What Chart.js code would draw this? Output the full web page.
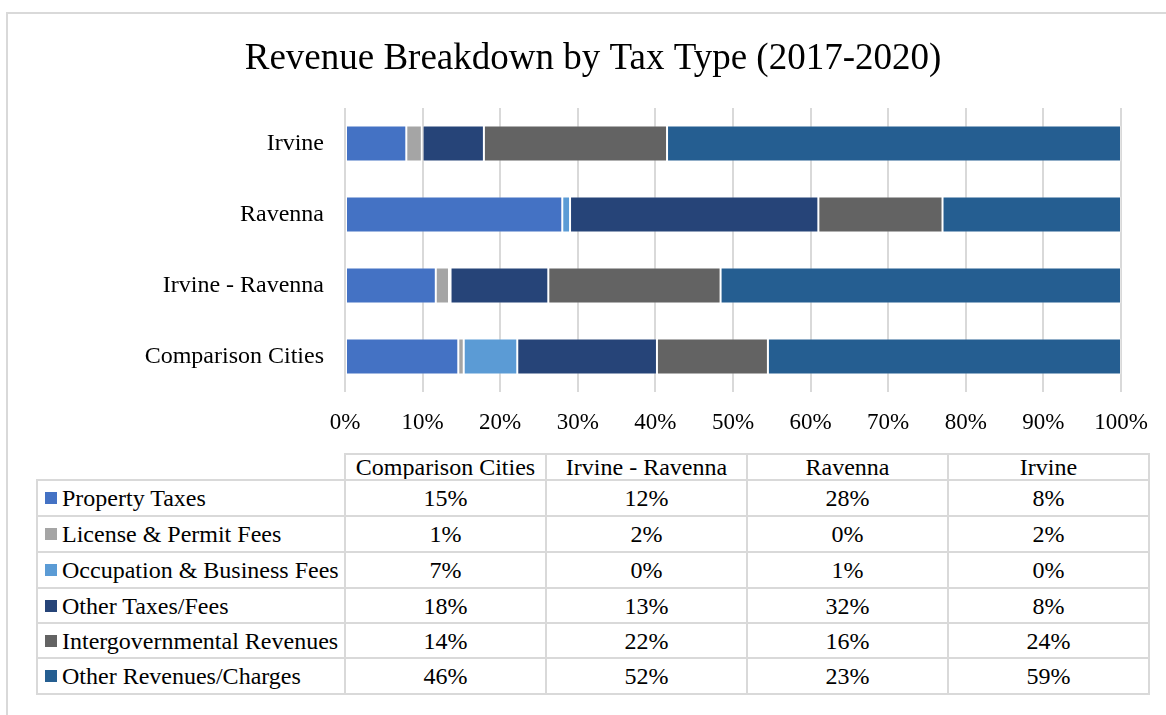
<!DOCTYPE html>
<html>
<head>
<meta charset="utf-8">
<script src="https://cdn.jsdelivr.net/npm/chart.js@4.4.1/dist/chart.umd.min.js"></script>
<style>
  html, body { margin: 0; padding: 0; background: #fff; }
  body { width: 1166px; height: 715px; position: relative; overflow: hidden;
         font-family: "Liberation Serif", "Times New Roman", serif; color: #000; }
  #frame { position: absolute; left: 6px; top: 12px; width: 1200px; height: 800px;
           border: 2px solid #d9d9d9; box-sizing: border-box; }
  #chartBox { position: absolute; left: 0; top: 0; width: 1166px; height: 440px; }
  #dataTable { position: absolute; left: 0; top: 0; }
  .cell { position: absolute; box-sizing: border-box; border: 2px solid #d9d9d9;
          display: flex; align-items: center; justify-content: center;
          font-size: 24px; line-height: 1; white-space: nowrap; }
  .cell.legend { justify-content: flex-start; padding-left: 7px; }
  .swatch { width: 12px; height: 12px; margin-right: 5px; flex: none; }
</style>
</head>
<body>
<div id="frame"></div>
<div id="chartBox"><canvas id="revenueChart" width="1166" height="440"></canvas></div>
<div id="dataTable"></div>
<script>
// Jurisdictions, in data-table column order (bottom bar first)
const categories = ['Comparison Cities', 'Irvine - Ravenna', 'Ravenna', 'Irvine'];

// Share of total revenue (%) by tax type
const propertyTaxes      = [14.6, 11.7, 28.0, 7.9];
const licenseFees        = [0.7, 1.7, 0.0, 2.0];
const occupationFees     = [6.9, 0.2, 1.0, 0.1];
const otherTaxes         = [18.0, 12.6, 32.0, 7.9];
const intergovernmental  = [14.3, 22.2, 16.0, 23.6];
const otherRevenues      = [45.5, 51.6, 23.0, 58.5];

const seriesNames = ['Property Taxes', 'License & Permit Fees', 'Occupation & Business Fees',
                     'Other Taxes/Fees', 'Intergovernmental Revenues', 'Other Revenues/Charges'];
const seriesColors = ['#4472C4', '#A5A5A5', '#5B9BD5', '#264478', '#636363', '#255E91'];
const seriesValues = [propertyTaxes, licenseFees, occupationFees, otherTaxes, intergovernmental, otherRevenues];

const xTicks = [0, 10, 20, 30, 40, 50, 60, 70, 80, 90, 100];

const serif = '"Liberation Serif", "Times New Roman", serif';

const datasets = seriesNames.map((name, i) => ({
  label: name,
  data: seriesValues[i],
  backgroundColor: seriesColors[i],
  borderColor: 'rgba(255,255,255,0.3)',
  borderWidth: 1,
  borderSkipped: false,
  categoryPercentage: 1,
  barPercentage: 0.51
}));

new Chart(document.getElementById('revenueChart'), {
  type: 'bar',
  data: { labels: categories, datasets },
  options: {
    indexAxis: 'y',
    responsive: false,
    animation: false,
    layout: { padding: { left: 65, right: 45, top: 0, bottom: 0 } },
    plugins: {
      legend: { display: false },
      tooltip: { enabled: false },
      title: {
        display: true,
        text: 'Revenue Breakdown by Tax Type (2017-2020)',
        color: '#000',
        font: { family: serif, size: 37, weight: 'normal', lineHeight: 1.2 },
        padding: { top: 37, bottom: 26.6 }
      }
    },
    scales: {
      x: {
        stacked: true,
        min: 0,
        max: 100,
        afterBuildTicks: (scale) => { scale.ticks = xTicks.map(v => ({ value: v })); },
        afterFit: (scale) => { scale.height = 48; },
        ticks: {
          callback: (v) => v + '%',
          color: '#000',
          padding: 17,
          maxRotation: 0,
          font: { family: serif, size: 23 }
        },
        grid: { color: '#d9d9d9', lineWidth: 2, drawTicks: false },
        border: { display: false }
      },
      y: {
        stacked: true,
        reverse: true,
        afterFit: (scale) => { scale.width = 280; },
        ticks: {
          color: '#000',
          padding: 21,
          font: { family: serif, size: 24 }
        },
        grid: { display: false, drawTicks: false },
        border: { display: false }
      }
    }
  }
});

// Data table with legend keys beneath the chart
const colEdges = [37, 345, 546, 747, 948, 1149];
const headerTop = 454;
const rowEdges = [480, 516, 552, 588, 623, 658, 694];
const table = document.getElementById('dataTable');

function addCell(x0, x1, y0, y1, cls) {
  const d = document.createElement('div');
  d.className = 'cell' + (cls ? ' ' + cls : '');
  d.style.left = (x0 - 1) + 'px';
  d.style.top = (y0 - 1) + 'px';
  d.style.width = (x1 - x0 + 2) + 'px';
  d.style.height = (y1 - y0 + 2) + 'px';
  table.appendChild(d);
  return d;
}

categories.forEach((c, j) => {
  addCell(colEdges[j + 1], colEdges[j + 2], headerTop, rowEdges[0]).textContent = c;
});

seriesNames.forEach((name, i) => {
  const y0 = rowEdges[i], y1 = rowEdges[i + 1];
  const lg = addCell(colEdges[0], colEdges[1], y0, y1, 'legend');
  const sw = document.createElement('span');
  sw.className = 'swatch';
  sw.style.background = seriesColors[i];
  lg.appendChild(sw);
  lg.appendChild(document.createTextNode(name));
  seriesValues[i].forEach((v, j) => {
    addCell(colEdges[j + 1], colEdges[j + 2], y0, y1).textContent = Math.round(v) + '%';
  });
});
</script>
</body>
</html>
